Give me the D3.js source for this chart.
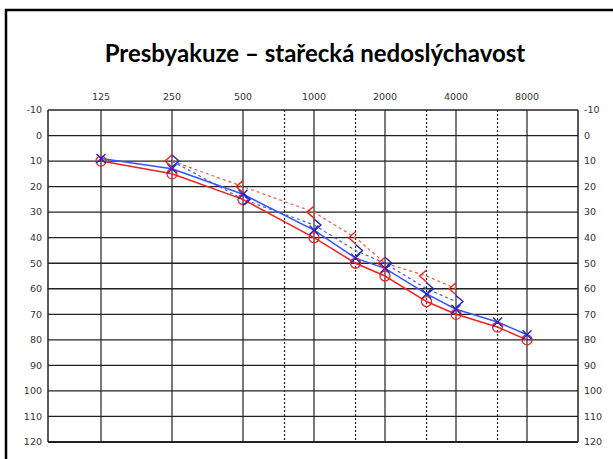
<!DOCTYPE html>
<html>
<head>
<meta charset="utf-8">
<script src="https://cdn.jsdelivr.net/npm/d3@7"></script>
<style>
  body { margin: 0; background: #fff; }
  svg { display: block; }
</style>
</head>
<body>
<div id="chart"></div>
<script>
var freqs = [125, 250, 500, 1000, 1500, 2000, 3000, 4000, 6000, 8000];
var topLabels = [125, 250, 500, 1000, 2000, 4000, 8000];
var dashedFreqs = [750, 1500, 3000, 6000];
var dbTicks = d3.range(-10, 130, 10);

// right ear, air (O)
var rightAir = [10, 15, 25, 40, 50, 55, 65, 70, 75, 80];
// left ear, air (X)
var leftAir = [9, 13, 23, 37, 48, 52, 62, 68, 73, 78];
// bone conduction (< and >)
var boneFreqs = [250, 500, 1000, 1500, 2000, 3000, 4000];
var rightBone = [10, 20, 30, 40, 50, 55, 60];
var leftBone = [10, 25, 35, 45, 50, 60, 65];

var W = 613, H = 459;
var plotLeft = 48, plotRight = 578;

var svg = d3.select("#chart").append("svg").attr("width", W).attr("height", H);

var x = d3.scaleLog().base(2).domain([125, 8000]).range([101, 527]);
var y = d3.scaleLinear().domain([-10, 120]).range([110, 442]);

// frame
svg.append("rect").attr("x", 6).attr("y", 10).attr("width", 700).attr("height", 600)
   .attr("fill", "none").attr("stroke", "#000").attr("stroke-width", 2.5);

// title
svg.append("text").text("Presbyakuze \u2013 sta\u0159eck\u00e1 nedosl\u00fdchavost")
   .attr("x", 315).attr("y", 62).attr("text-anchor", "middle")
   .attr("font-family", "Lato, 'Open Sans', sans-serif").attr("font-weight", "bold")
   .attr("font-size", 24).attr("fill", "#000");

// horizontal grid
svg.selectAll(".hline").data(dbTicks).enter().append("line")
   .attr("x1", plotLeft).attr("x2", plotRight)
   .attr("y1", function(d){ return y(d); }).attr("y2", function(d){ return y(d); })
   .attr("stroke", "#222").attr("stroke-width", function(d){ return d == 120 ? 2.2 : 1.3; });

// vertical grid, solid
svg.selectAll(".vline").data(topLabels).enter().append("line")
   .attr("x1", function(d){ return x(d); }).attr("x2", function(d){ return x(d); })
   .attr("y1", y(-10)).attr("y2", y(120))
   .attr("stroke", "#222").attr("stroke-width", 1.2);

// vertical grid, dashed
svg.selectAll(".vdash").data(dashedFreqs).enter().append("line")
   .attr("x1", function(d){ return x(d); }).attr("x2", function(d){ return x(d); })
   .attr("y1", y(-10)).attr("y2", y(120))
   .attr("stroke", "#222").attr("stroke-width", 1.2).attr("stroke-dasharray", "2,2");

// plot border
svg.append("line").attr("x1", plotLeft).attr("x2", plotLeft).attr("y1", y(-10)).attr("y2", y(120))
   .attr("stroke", "#222").attr("stroke-width", 1.5);
svg.append("line").attr("x1", plotRight).attr("x2", plotRight).attr("y1", y(-10)).attr("y2", y(120))
   .attr("stroke", "#222").attr("stroke-width", 1.5);

// labels
var lblFont = "'DejaVu Sans', Verdana, sans-serif";
svg.selectAll(".toplbl").data(topLabels).enter().append("text").text(function(d){ return d; })
   .attr("x", function(d){ return x(d); }).attr("y", 97).attr("dy", ".35em")
   .attr("text-anchor", "middle").attr("font-family", lblFont).attr("font-size", 9.5).attr("fill", "#333");
svg.selectAll(".leftlbl").data(dbTicks).enter().append("text").text(function(d){ return d; })
   .attr("x", 42).attr("y", function(d){ return y(d); }).attr("dy", ".35em")
   .attr("text-anchor", "end").attr("font-family", lblFont).attr("font-size", 9.5).attr("fill", "#333");
svg.selectAll(".rightlbl").data(dbTicks).enter().append("text").text(function(d){ return d; })
   .attr("x", 584).attr("y", function(d){ return y(d); }).attr("dy", ".35em")
   .attr("text-anchor", "start").attr("font-family", lblFont).attr("font-size", 9.5).attr("fill", "#333");

// series
var red = "#ee2222";
function pts(fs, vs) { return fs.map(function(f, i){ return [f, vs[i]]; }); }
var line = d3.line().x(function(d){ return x(d[0]); }).y(function(d){ return y(d[1]); });

svg.append("path").datum(pts(boneFreqs, rightBone)).attr("d", line)
   .attr("fill", "none").attr("stroke", "#f05a3a").attr("stroke-width", 1.2).attr("stroke-dasharray", "3,3");
svg.append("path").datum(pts(boneFreqs, leftBone)).attr("d", line)
   .attr("fill", "none").attr("stroke", "#4a5ae0").attr("stroke-width", 1.2).attr("stroke-dasharray", "3,3");
svg.append("path").datum(pts(freqs, rightAir)).attr("d", line)
   .attr("fill", "none").attr("stroke", red).attr("stroke-width", 1.5);
svg.append("path").datum(pts(freqs, leftAir)).attr("d", line)
   .attr("fill", "none").attr("stroke", "#3355ff").attr("stroke-width", 1.5);

// O markers
svg.selectAll(".circ").data(pts(freqs, rightAir)).enter().append("circle")
   .attr("cx", function(d){ return x(d[0]); }).attr("cy", function(d){ return y(d[1]); }).attr("r", 5)
   .attr("fill", "none").attr("stroke", red).attr("stroke-width", 1.3);

// X markers
svg.selectAll(".xmark").data(pts(freqs, leftAir)).enter().append("path")
   .attr("transform", function(d){ return "translate(" + x(d[0]) + "," + y(d[1]) + ")"; })
   .attr("d", "M-4.5,-4.5L4.5,4.5M-4.5,4.5L4.5,-4.5")
   .attr("fill", "none").attr("stroke", "#2222cc").attr("stroke-width", 1.4);

// < markers
svg.selectAll(".lt").data(pts(boneFreqs, rightBone)).enter().append("path")
   .attr("transform", function(d){ return "translate(" + x(d[0]) + "," + y(d[1]) + ")"; })
   .attr("d", "M0,-6L-7,0L0,6")
   .attr("fill", "none").attr("stroke", red).attr("stroke-width", 1.4);

// > markers
svg.selectAll(".gt").data(pts(boneFreqs, leftBone)).enter().append("path")
   .attr("transform", function(d){ return "translate(" + x(d[0]) + "," + y(d[1]) + ")"; })
   .attr("d", "M0,-6L7,0L0,6")
   .attr("fill", "none").attr("stroke", "#2222cc").attr("stroke-width", 1.4);
</script>
</body>
</html>
